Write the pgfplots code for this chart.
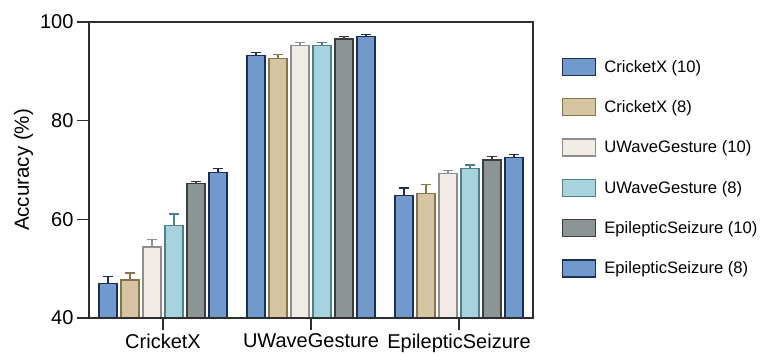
\documentclass[border=0pt]{standalone}
\usepackage{fontspec}
\setmainfont{Liberation Sans}
\usepackage{pgfplots}
\pgfplotsset{compat=1.18}

\definecolor{bluefill}{HTML}{7199CB}
\definecolor{blueedge}{HTML}{1B2F5C}
\definecolor{tanfill}{HTML}{D5C5A3}
\definecolor{tanedge}{HTML}{8A7447}
\definecolor{creamfill}{HTML}{F1EBE5}
\definecolor{creamedge}{HTML}{8E8E8E}
\definecolor{lbfill}{HTML}{A7D3DF}
\definecolor{lbedge}{HTML}{4E7F8C}
\definecolor{grayfill}{HTML}{8C9496}
\definecolor{grayedge}{HTML}{3A3D3E}
\definecolor{axcol}{HTML}{2E2E2E}

\pgfplotsset{
  mybar/.style 2 args={
    fill=#1, draw=#2, line width=1.3pt,
    legend image code/.code={\draw[fill=#1, draw=#2, line width=1.3pt] (0pt,-8.5pt) rectangle (33pt,8.5pt);},
    error bars/.cd, y dir=plus, y explicit,
    error bar style={line width=1.3pt, color=#2},
    error mark options={rotate=90, mark size=5pt, line width=1.3pt, color=#2}
  }
}

\begin{document}
\begin{tikzpicture}
\useasboundingbox (0,0) rectangle (761pt,356pt);
\begin{axis}[
  at={(89pt,38pt)}, anchor=south west,
  scale only axis, width=444pt, height=296pt,
  ybar=4pt, bar width=18pt,
  xmin=-0.5, xmax=2.5, ymin=40, ymax=100,
  xtick={0,1,2}, xticklabels={CricketX,UWaveGesture,EpilepticSeizure},
  ytick={40,60,80,100},
  tick pos=left, tick align=outside,
  major tick length=12pt,
  tick style={line width=1.3pt, color=axcol},
  axis line style={line width=1.4pt, color=axcol},
  /pgf/number format/assume math mode=true,
  tick label style={font=\fontsize{20}{24}\selectfont},
  ylabel={Accuracy (\%)},
  ylabel style={font=\fontsize{20.5}{24}\selectfont},
  axis on top=true,
  legend style={at={(1.065,0.88)}, anchor=north west, draw=none, fill=none,
    inner sep=0pt, row sep=22pt, font=\fontsize{16.6}{20}\selectfont,
    cells={anchor=west, text height=12pt, text depth=4pt},
    /tikz/every odd column/.append style={column sep=6pt}},
  legend cell align=left,
]
\addplot+[mybar={bluefill}{blueedge}] coordinates {(0,47.0) +- (0,1.4) (1,93.2) +- (0,0.65) (2,64.8) +- (0,1.55)};
\addplot+[mybar={tanfill}{tanedge}] coordinates {(0,47.7) +- (0,1.4) (1,92.6) +- (0,0.75) (2,65.2) +- (0,1.8)};
\addplot+[mybar={creamfill}{creamedge}] coordinates {(0,54.4) +- (0,1.55) (1,95.3) +- (0,0.5) (2,69.3) +- (0,0.55)};
\addplot+[mybar={lbfill}{lbedge}] coordinates {(0,58.7) +- (0,2.4) (1,95.3) +- (0,0.6) (2,70.3) +- (0,0.7)};
\addplot+[mybar={grayfill}{grayedge}] coordinates {(0,67.2) +- (0,0.45) (1,96.55) +- (0,0.45) (2,72.0) +- (0,0.8)};
\addplot+[mybar={bluefill}{blueedge}] coordinates {(0,69.5) +- (0,0.8) (1,97.1) +- (0,0.3) (2,72.5) +- (0,0.7)};
\legend{CricketX (10),CricketX (8),UWaveGesture (10),UWaveGesture (8),EpilepticSeizure (10),EpilepticSeizure (8)}
\end{axis}
\end{tikzpicture}
\end{document}
